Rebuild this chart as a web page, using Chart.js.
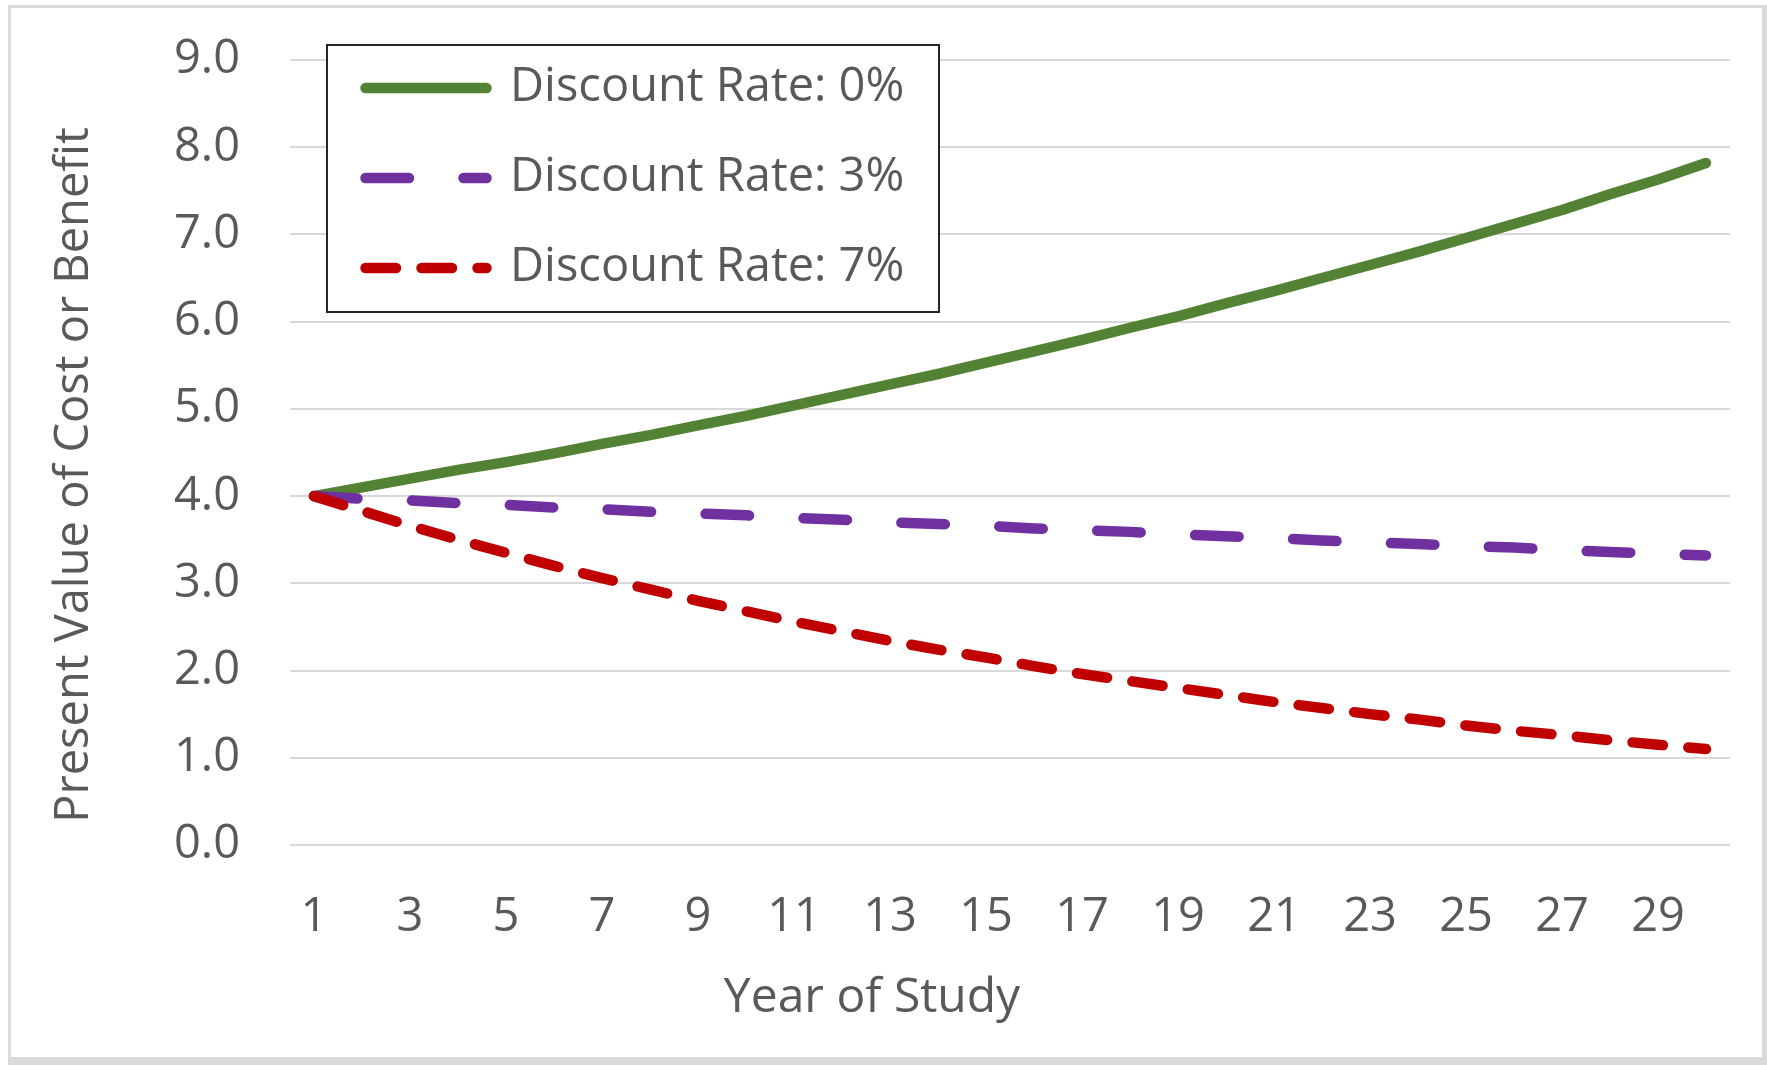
<!DOCTYPE html>
<html>
<head>
<meta charset="utf-8">
<title>Present Value by Discount Rate</title>
<script src="https://cdn.jsdelivr.net/npm/chart.js@4/dist/chart.umd.min.js"></script>
<style>
  html, body { margin: 0; padding: 0; background: #ffffff; }
  #wrap { width: 1767px; height: 1065px; }
</style>
</head>
<body>
<div id="wrap"><canvas id="pv" width="1767" height="1065"></canvas></div>
<script>
// Year of study (category axis)
const years = [1, 2, 3, 4, 5, 6, 7, 8, 9, 10, 11, 12, 13, 14, 15,
               16, 17, 18, 19, 20, 21, 22, 23, 24, 25, 26, 27, 28, 29, 30];

// Present value of the cost or benefit for each discount rate
const rate0 = [4.00, 4.10, 4.20, 4.30, 4.39, 4.49, 4.60, 4.70, 4.81, 4.92,
               5.04, 5.16, 5.28, 5.40, 5.53, 5.66, 5.79, 5.93, 6.06, 6.21,
               6.35, 6.50, 6.65, 6.80, 6.96, 7.12, 7.28, 7.46, 7.63, 7.82];
const rate3 = [4.00, 3.97, 3.95, 3.92, 3.90, 3.87, 3.85, 3.82, 3.80, 3.78,
               3.75, 3.73, 3.70, 3.68, 3.66, 3.63, 3.61, 3.59, 3.56, 3.54,
               3.52, 3.49, 3.47, 3.45, 3.43, 3.41, 3.38, 3.36, 3.34, 3.32];
const rate7 = [4.00, 3.83, 3.66, 3.50, 3.35, 3.20, 3.06, 2.93, 2.80, 2.68,
               2.56, 2.45, 2.34, 2.24, 2.15, 2.05, 1.96, 1.88, 1.80, 1.72,
               1.64, 1.57, 1.50, 1.44, 1.37, 1.31, 1.26, 1.20, 1.15, 1.10];

const seriesNames = ['Discount Rate: 0%', 'Discount Rate: 3%', 'Discount Rate: 7%'];
const xTitle = 'Year of Study';
const yTitle = 'Present Value of Cost or Benefit';

const TEXT = '#595959';
const GRID = '#d9d9d9';
const FONT = '"Open Sans", "Noto Sans", sans-serif';

// White chart background with a light grey frame
const frame = {
  id: 'frame',
  beforeDraw(chart) {
    const ctx = chart.ctx;
    ctx.save();
    ctx.fillStyle = '#ffffff';
    ctx.fillRect(0, 0, chart.width, chart.height);
    ctx.fillStyle = '#dadada';
    ctx.fillRect(8, 5, chart.width - 8, chart.height - 5);
    ctx.fillStyle = '#ffffff';
    ctx.fillRect(11, 8, chart.width - 16, chart.height - 16);
    ctx.restore();
  }
};

// Places the legend in the upper-left of the plot and gives it a boxed background
const legendBox = {
  id: 'legendBox',
  beforeDraw(chart) {
    const lg = chart.legend;
    if (!lg) return;
    lg.left = 322.5;
    lg.top = 21.5;
    lg.right = 960;
    lg.bottom = 400;
    if (!lg._boxed) {
      const drawItems = lg.draw.bind(lg);
      lg.draw = function (area) {
        const ctx = chart.ctx;
        ctx.save();
        ctx.fillStyle = '#ffffff';
        ctx.fillRect(327, 45, 612, 267);
        ctx.strokeStyle = '#262626';
        ctx.lineWidth = 2;
        ctx.strokeRect(327, 45, 612, 267);
        ctx.restore();
        drawItems(area);
      };
      lg._boxed = true;
    }
  }
};

// Axis titles
const axisTitles = {
  id: 'axisTitles',
  afterDraw(chart) {
    const ctx = chart.ctx;
    ctx.save();
    ctx.fillStyle = TEXT;
    ctx.textAlign = 'center';
    ctx.textBaseline = 'middle';
    ctx.font = '48px ' + FONT;
    ctx.fillText(xTitle, 872, 998);
    ctx.font = '47px ' + FONT;
    ctx.translate(75, 475);
    ctx.rotate(-Math.PI / 2);
    ctx.fillText(yTitle, 0, 0);
    ctx.restore();
  }
};

const lineStyle = {
  borderWidth: 10.5,
  borderCapStyle: 'round',
  borderJoinStyle: 'round',
  pointRadius: 0,
  pointHoverRadius: 0,
  tension: 0,
  fill: false
};

new Chart(document.getElementById('pv'), {
  type: 'line',
  data: {
    labels: years,
    datasets: [
      Object.assign({ label: seriesNames[0], data: rate0, borderColor: '#548235', backgroundColor: '#548235', order: 3 }, lineStyle),
      Object.assign({ label: seriesNames[1], data: rate3, borderColor: '#7030a0', backgroundColor: '#7030a0', borderDash: [43.5, 54.5], order: 2 }, lineStyle),
      Object.assign({ label: seriesNames[2], data: rate7, borderColor: '#c00000', backgroundColor: '#c00000', borderDash: [30.5, 25.5], order: 1 }, lineStyle)
    ]
  },
  options: {
    responsive: false,
    animation: false,
    devicePixelRatio: 1,
    layout: { padding: { left: 0, top: 60, right: 37, bottom: 0 } },
    scales: {
      x: {
        type: 'category',
        offset: true,
        grid: { display: false, drawTicks: false },
        border: { display: false },
        afterFit(scale) { scale.height = 220; },
        ticks: {
          autoSkip: false,
          maxRotation: 0,
          padding: 44,
          color: TEXT,
          font: { family: FONT, size: 47 },
          callback(value, index) { return index % 2 === 0 ? this.getLabelForValue(value) : null; }
        }
      },
      y: {
        min: 0,
        max: 9,
        grid: { color: GRID, lineWidth: 2, drawTicks: false },
        border: { display: false },
        afterFit(scale) {
          scale.width = 290;
          // the top padding already leaves room for the 9.0 label
          scale.paddingTop = 0;
          scale.paddingBottom = 0;
        },
        ticks: {
          stepSize: 1,
          padding: 50,
          color: TEXT,
          font: { family: FONT, size: 47 },
          callback(value) { return value.toFixed(1); }
        }
      }
    },
    plugins: {
      tooltip: { enabled: false },
      legend: {
        display: true,
        position: 'chartArea',
        align: 'start',
        labels: {
          usePointStyle: true,
          pointStyleWidth: 121,
          padding: 43,
          color: TEXT,
          font: { family: FONT, size: 47 },
          generateLabels(chart) {
            return chart.data.datasets.map((ds, i) => ({
              text: ds.label,
              fillStyle: ds.borderColor,
              strokeStyle: ds.borderColor,
              fontColor: TEXT,
              lineWidth: ds.borderWidth,
              lineDash: ds.borderDash || [],
              lineDashOffset: 0,
              lineCap: 'round',
              lineJoin: 'round',
              pointStyle: 'line',
              rotation: 180,
              hidden: false,
              datasetIndex: i
            }));
          }
        }
      }
    }
  },
  plugins: [frame, legendBox, axisTitles]
});
</script>
</body>
</html>
